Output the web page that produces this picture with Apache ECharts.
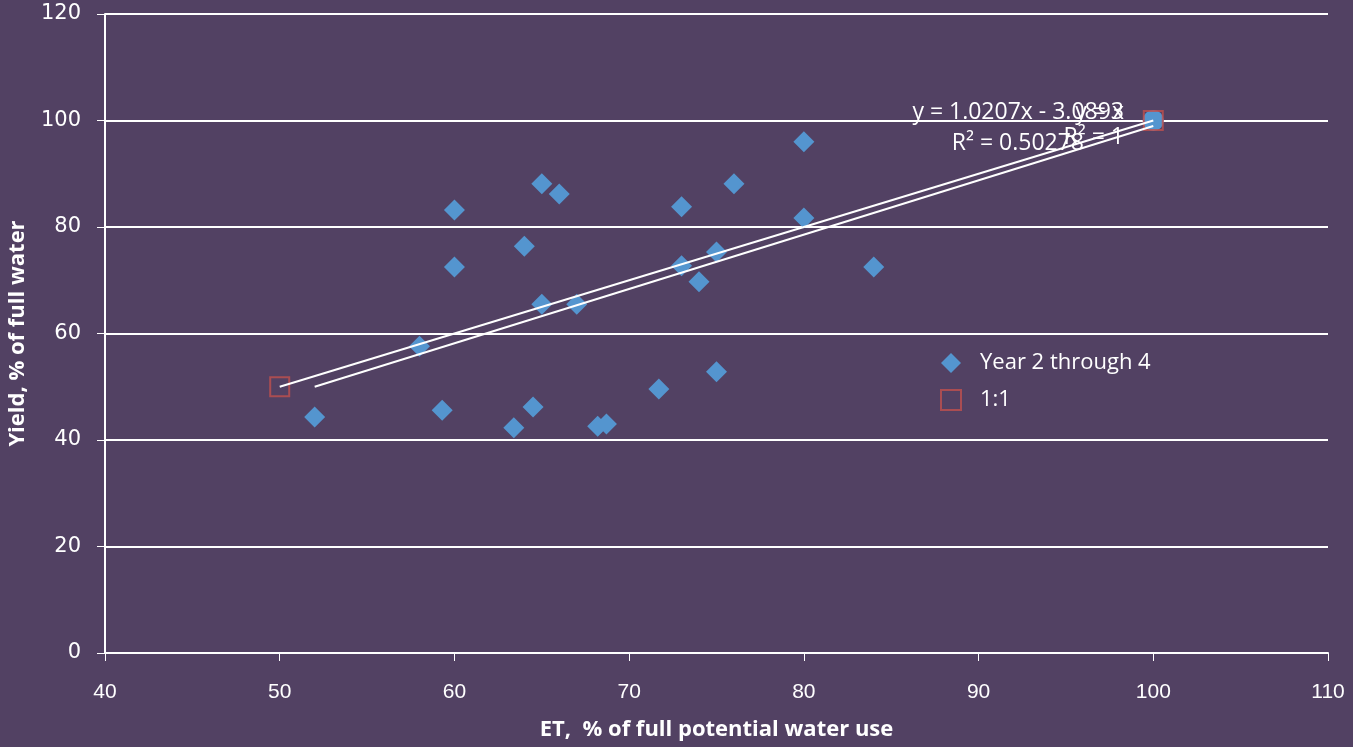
<!DOCTYPE html>
<html><head><meta charset="utf-8">
<script src="https://cdn.jsdelivr.net/npm/echarts@6/dist/echarts.min.js"></script>
<style>html,body{margin:0;padding:0;background:#524163;}#c{width:1353px;height:747px;}</style>
</head><body><div id="c"></div>
<script>
const seriesNames = ['Year 2 through 4', '1:1'];
const etValues = [52, 58, 59.3, 60, 60, 63.4, 64, 64.5, 65, 65, 66, 67, 68.2, 68.7, 71.7, 73, 73, 74, 75, 75, 76, 80, 80, 84, 100];
const yieldValues = [44.3, 57.6, 45.6, 83.2, 72.5, 42.3, 76.4, 46.2, 88.1, 65.5, 86.2, 65.5, 42.6, 43.0, 49.6, 83.8, 72.7, 69.7, 52.8, 75.3, 88.1, 96.0, 81.7, 72.5, 100];
const oneToOneX = [50, 100];
const oneToOneY = [50, 100];
const fitSlope = 1.0207, fitIntercept = -3.0893;
const xTicks = [40, 50, 60, 70, 80, 90, 100, 110];
const yTicks = [0, 20, 40, 60, 80, 100, 120];
const eqLabels = ['y = 1.0207x - 3.0893', 'R² = 0.50278', 'y = x', 'R² = 1'];

const blue = '#5495CF', red = '#C0504D', white = '#FFFFFF';
const scatterData = etValues.map((x, i) => {
  const d = {value: [x, yieldValues[i]]};
  if (x === 100) d.symbol = 'circle';
  return d;
});
const oneData = oneToOneX.map((x, i) => [x, oneToOneY[i]]);
const xmin = Math.min(...etValues), xmax = Math.max(...etValues);
const fitLine = [[xmin, fitSlope * xmin + fitIntercept], [xmax, fitSlope * xmax + fitIntercept]];

const chart = echarts.init(document.getElementById('c'), null, {renderer: 'canvas'});
chart.setOption({
  backgroundColor: '#524163',
  animation: false,
  grid: {left: 105, right: 25, top: 14, bottom: 94, containLabel: false, outerBoundsMode: 'none'},
  xAxis: {
    type: 'value', min: xTicks[0], max: xTicks[xTicks.length - 1], interval: 10,
    name: 'ET,  % of full potential water use', nameLocation: 'middle', nameGap: 66,
    nameTextStyle: {color: white, fontSize: 22, fontWeight: 'bold', fontFamily: 'Open Sans'},
    axisLine: {show: true, lineStyle: {color: white, width: 2}},
    axisTick: {show: true, length: 8, lineStyle: {color: white, width: 1}},
    axisLabel: {color: white, fontSize: 21, fontFamily: 'Liberation Sans', margin: 29},
    splitLine: {show: false}
  },
  yAxis: {
    type: 'value', min: yTicks[0], max: yTicks[yTicks.length - 1], interval: 20,
    name: 'Yield, % of full water', nameLocation: 'middle', nameGap: 76,
    nameTextStyle: {color: white, fontSize: 22, fontWeight: 'bold', fontFamily: 'Open Sans'},
    axisLine: {show: true, lineStyle: {color: white, width: 2}},
    axisTick: {show: true, length: 8, inside: false, lineStyle: {color: white, width: 1}},
    axisLabel: {color: white, fontSize: 21, fontFamily: 'DejaVu Sans', margin: 24},
    splitLine: {show: true, lineStyle: {color: white, width: 2}}
  },
  legend: {
    left: 935, top: 347, orient: 'vertical', itemGap: 15, itemWidth: 20, itemHeight: 20,
    textStyle: {color: white, fontSize: 22, fontFamily: 'Open Sans', padding: [0, 0, 0, 14]},
    data: [
      {name: seriesNames[0], icon: 'diamond', itemStyle: {color: blue}},
      {name: seriesNames[1], icon: 'rect', itemStyle: {color: 'transparent', borderColor: red, borderWidth: 2}}
    ]
  },
  series: [
    {name: seriesNames[0], type: 'scatter', data: scatterData, symbol: 'diamond', symbolSize: 21,
     itemStyle: {color: blue, opacity: 1}, z: 3},
    {name: seriesNames[1], type: 'scatter', data: oneData, symbol: 'rect', symbolSize: 19,
     itemStyle: {color: 'rgba(0,0,0,0)', borderColor: red, borderWidth: 2}, z: 4},
    {name: 'fit1', type: 'line', data: oneData, symbol: 'none', lineStyle: {color: white, width: 2}, z: 5, silent: true},
    {name: 'fit2', type: 'line', data: fitLine, symbol: 'none', lineStyle: {color: white, width: 2}, z: 5, silent: true}
  ],
  graphic: [
    {type: 'text', right: 1353 - 1124, top: 101, style: {text: eqLabels[0], fill: white, font: '23px "Open Sans"'}},
    {type: 'text', right: 1353 - 1084, top: 132, style: {text: eqLabels[1], fill: white, font: '23px "Open Sans"'}},
    {type: 'text', right: 1353 - 1124, top: 101, style: {text: eqLabels[2], fill: white, font: '23px "Open Sans"'}},
    {type: 'text', right: 1353 - 1124, top: 126, style: {text: eqLabels[3], fill: white, font: '23px "Open Sans"'}}
  ]
});
</script></body></html>
